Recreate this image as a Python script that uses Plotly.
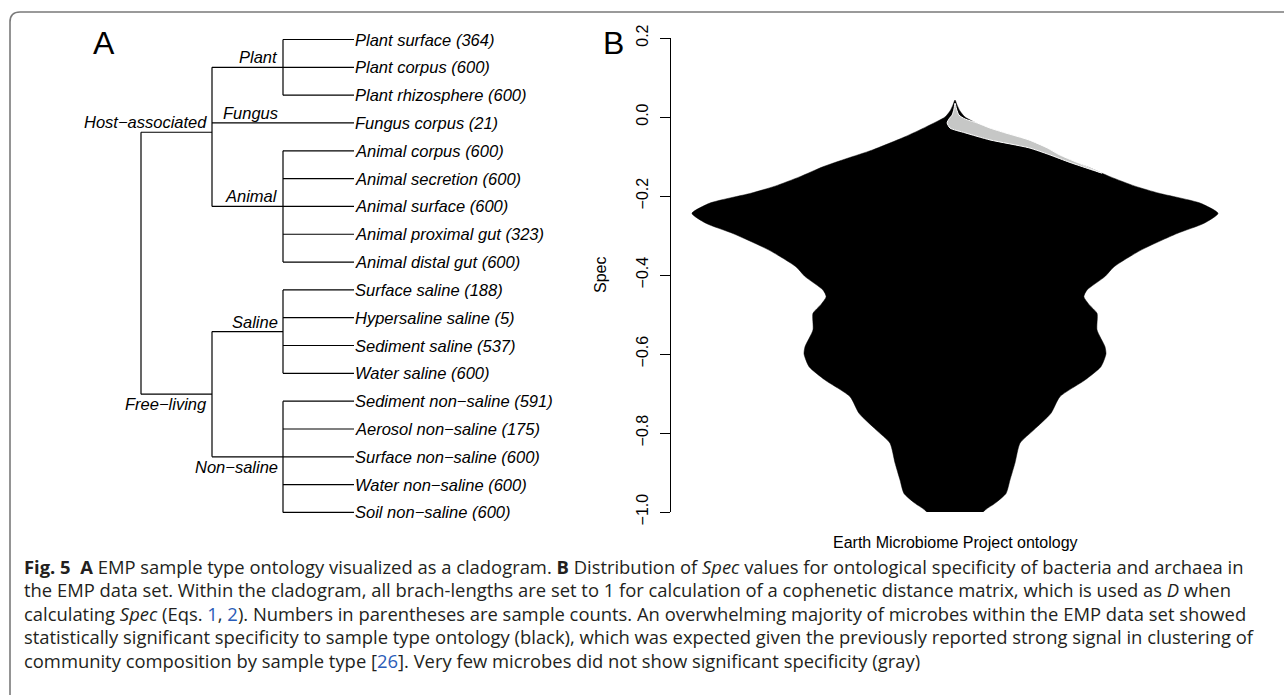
import plotly.graph_objects as go

W, H = 1284, 695

# ---------------- cladogram data (EMP sample type ontology) ----------------
leaf_names = [
    "Plant surface", "Plant corpus", "Plant rhizosphere", "Fungus corpus",
    "Animal corpus", "Animal secretion", "Animal surface", "Animal proximal gut",
    "Animal distal gut", "Surface saline", "Hypersaline saline", "Sediment saline",
    "Water saline", "Sediment non−saline", "Aerosol non−saline", "Surface non−saline",
    "Water non−saline", "Soil non−saline",
]
leaf_counts = [364, 600, 600, 21, 600, 600, 600, 323, 600, 188, 5, 537, 600, 591, 175, 600, 600, 600]
leaf_group = ["Plant"] * 3 + ["Fungus"] + ["Animal"] * 5 + ["Saline"] * 4 + ["Non−saline"] * 5
group_names = ["Plant", "Fungus", "Animal", "Saline", "Non−saline"]
group_parent = ["Host−associated", "Host−associated", "Host−associated", "Free−living", "Free−living"]
top_names = ["Host−associated", "Free−living"]

# ---------------- Spec distribution (violin half-widths, max = 1) ----------------
spec_grid = [0.043, 0.03, 0.015, 0.0, -0.025, -0.05, -0.084, -0.105, -0.126, -0.151,
             -0.175, -0.193, -0.218, -0.244, -0.269, -0.295, -0.337, -0.379, -0.404,
             -0.438, -0.455, -0.475, -0.497, -0.539, -0.581, -0.60, -0.632, -0.666,
             -0.708, -0.750, -0.792, -0.826, -0.876, -0.919, -0.953, -0.978, -0.993, -1.0]
signif_density = [0.0, 0.008, 0.019, 0.038, 0.110, 0.190, 0.316, 0.411, 0.502, 0.589,
                  0.684, 0.776, 0.932, 1.000, 0.947, 0.844, 0.707, 0.605, 0.570,
                  0.502, 0.490, 0.510, 0.540, 0.540, 0.570, 0.574, 0.555, 0.494,
                  0.399, 0.365, 0.300, 0.247, 0.228, 0.209, 0.194, 0.152, 0.118, 0.106]

# non-significant microbes: band on the right side of the violin
nonsig_spec = [0.035, 0.02, 0.005, -0.005, -0.015, -0.028, -0.04, -0.058, -0.078, -0.095, -0.115, -0.142]
nonsig_outer = [0.0, 0.006, 0.015, 0.038, 0.084, 0.133, 0.190, 0.281, 0.350, 0.395, 0.464, 0.558]
nonsig_inner = [0.0, -0.004, -0.011, -0.023, -0.030, -0.019, 0.038, 0.133, 0.281, 0.357, 0.437, 0.558]

spec_ticks = [-1.0, -0.8, -0.6, -0.4, -0.2, 0.0, 0.2]

REF = "<span style='color:#2a5cb8'>{}</span>"
caption_lines = [
    "<b>Fig. 5</b>\u00a0\u00a0<b>A</b> EMP sample type ontology visualized as a cladogram. <b>B</b> Distribution of <i>Spec</i> values for ontological specificity of bacteria and archaea in",
    "the EMP data set. Within the cladogram, all brach-lengths are set to 1 for calculation of a cophenetic distance matrix, which is used as <i>D</i> when",
    "calculating <i>Spec</i> (Eqs. " + REF.format("1") + ", " + REF.format("2") + "). Numbers in parentheses are sample counts. An overwhelming majority of microbes within the EMP data set showed",
    "statistically significant specificity to sample type ontology (black), which was expected given the previously reported strong signal in clustering of",
    "community composition by sample type [" + REF.format("26") + "]. Very few microbes did not show significant specificity (gray)",
]

# ---------------- styling ----------------
R_FONT = "Liberation Sans, Arial, Helvetica, sans-serif"
CAP_FONT = "Open Sans, Noto Sans, sans-serif"
label_above = {"Host−associated": True, "Free−living": False, "Plant": True, "Fungus": True,
               "Animal": True, "Saline": True, "Non−saline": False}


def px(x, y):
    return x / W, 1 - y / H


# ---------------- tree geometry ----------------
leaf_y = list(range(len(leaf_names)))
group_y = {}
group_span = {}
for g in group_names:
    ys = [leaf_y[i] for i, lg in enumerate(leaf_group) if lg == g]
    group_y[g] = sum(ys) / len(ys)
    group_span[g] = (min(ys), max(ys))
top_y = {}
top_span = {}
for t in top_names:
    ys = [group_y[g] for g, p in zip(group_names, group_parent) if p == t]
    top_y[t] = sum(ys) / len(ys)
    top_span[t] = (min(ys), max(ys))

ex, ey = [], []


def seg(x0, y0, x1, y1):
    ex.extend([x0, x1, None])
    ey.extend([y0, y1, None])


tys = [top_y[t] for t in top_names]
seg(0, min(tys), 0, max(tys))
for t in top_names:
    seg(0, top_y[t], 1, top_y[t])
    seg(1, top_span[t][0], 1, top_span[t][1])
for g in group_names:
    seg(1, group_y[g], 2, group_y[g])
    seg(2, group_span[g][0], 2, group_span[g][1])
for i in range(len(leaf_names)):
    seg(2, leaf_y[i], 3, leaf_y[i])

fig = go.Figure()
fig.add_trace(go.Scatter(x=ex, y=ey, mode="lines", line=dict(color="black", width=1.2),
                         hoverinfo="skip", xaxis="x", yaxis="y"))

# leaf labels
for i, (n, c) in enumerate(zip(leaf_names, leaf_counts)):
    fig.add_annotation(x=3, y=leaf_y[i], xref="x", yref="y", text=f"<i>{n} ({c})</i>",
                       showarrow=False, xanchor="left", yanchor="middle", xshift=-1,
                       font=dict(family=R_FONT, size=16.5, color="black"))
# internal node labels
for name, depth, yv in ([(t, 1, top_y[t]) for t in top_names] +
                        [(g, 2, group_y[g]) for g in group_names]):
    fig.add_annotation(x=depth, y=yv, xref="x", yref="y", text=f"<i>{name}</i>",
                       showarrow=False, xanchor="right", yanchor="middle", xshift=-3,
                       yshift=10 if label_above[name] else -10,
                       font=dict(family=R_FONT, size=16.5, color="black"))

# ---------------- violin ----------------
vx = [-d for d in signif_density] + [d for d in reversed(signif_density)]
vy = list(spec_grid) + list(reversed(spec_grid))
fig.add_trace(go.Scatter(x=vx, y=vy, mode="lines", fill="toself", fillcolor="black",
                         line=dict(color="black", width=0.5, shape="spline", smoothing=0.6),
                         hoverinfo="skip", xaxis="x2", yaxis="y2"))
gx = list(nonsig_outer) + list(reversed(nonsig_inner))
gy = list(nonsig_spec) + list(reversed(nonsig_spec))
fig.add_trace(go.Scatter(x=gx, y=gy, mode="lines", fill="toself", fillcolor="#c6c7c6",
                         line=dict(color="white", width=1, shape="spline", smoothing=0.6),
                         hoverinfo="skip", xaxis="x2", yaxis="y2"))


def label(x, y, text, size, **kw):
    lx, ly = px(x, y)
    fig.add_annotation(x=lx, y=ly, xref="paper", yref="paper", text=text, showarrow=False,
                       xanchor=kw.pop("xanchor", "center"), yanchor="middle",
                       font=dict(family=kw.pop("family", R_FONT), size=size,
                                 color=kw.pop("color", "black")), **kw)


# panel letters and axis texts
label(104, 43, "A", 32)
label(613, 43, "B", 32)
label(600, 275, "Spec", 16, textangle=-90)
label(955, 542, "Earth Microbiome Project ontology", 16)

# caption
for k, line in enumerate(caption_lines):
    label(22, 566 + 23.5 * k, line, 18.4, xanchor="left", family=CAP_FONT, color="#231f20")

# rounded frame (top-left corner)
fx0, fy0, r = 10, 12, 10
p = lambda x, y: f"{x / W:.5f},{1 - y / H:.5f}"
frame_path = f"M {p(fx0, H + 2)} L {p(fx0, fy0 + r)} Q {p(fx0, fy0)} {p(fx0 + r, fy0)} L {p(W + 2, fy0)}"
fig.add_shape(type="path", path=frame_path, xref="paper", yref="paper",
              line=dict(color="#7a7a7a", width=1.6))

fig.update_layout(
    template="none",
    width=W, height=H, margin=dict(l=0, r=0, t=0, b=0, pad=0, autoexpand=False),
    paper_bgcolor="white", plot_bgcolor="rgba(0,0,0,0)", showlegend=False,
    xaxis=dict(domain=[0, 1], range=[-141 / 71, (W - 141) / 71], visible=False, automargin=False),
    yaxis=dict(domain=[0, 1], range=[(H - 39.5) / 27.82, -39.5 / 27.82], visible=False, automargin=False),
    xaxis2=dict(domain=[665 / W, 1245 / W], range=[-290 / 263, 290 / 263], visible=False,
                anchor="y2", automargin=False),
    yaxis2=dict(domain=[1 - 512 / H, 1 - 38 / H], range=[-1.0, 0.2], anchor="free",
                position=670 / W, showline=True, linecolor="black", linewidth=1,
                ticks="outside", ticklen=10, tickwidth=1, tickcolor="black",
                tickvals=spec_ticks, tickformat=".1f", tickangle=-90, automargin=False,
                showgrid=False, zeroline=False, ticklabelstandoff=6,
                tickfont=dict(family=R_FONT, size=16, color="black")),
)

fig.write_html("out.html", config={"displayModeBar": False})
